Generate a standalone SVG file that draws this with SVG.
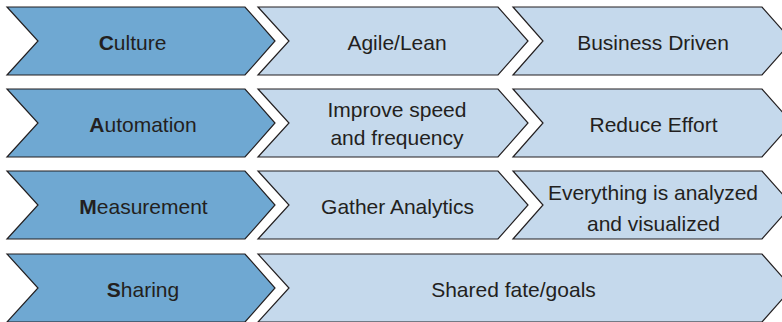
<svg xmlns="http://www.w3.org/2000/svg" width="782" height="322" viewBox="0 0 782 322">
<style>
.dark{fill:#6fa8d2;stroke:#231f20;stroke-width:1.2;stroke-linejoin:miter}
.light{fill:#c5d9ec;stroke:#231f20;stroke-width:1.2;stroke-linejoin:miter}
text{font-family:"Liberation Sans",Arial,sans-serif;font-size:21px;fill:#231f20;text-anchor:middle}
.b{font-weight:bold}
</style>
<rect width="782" height="322" fill="#ffffff"/>
<g id="culture">
<polygon class="dark" points="7,7 245,7 275,41 245,75 7,75 38,41"/>
<text x="132.5" y="50"><tspan class="b">C</tspan>ulture</text>
</g>
<g id="agile">
<polygon class="light" points="258,7 498,7 528,41 498,75 258,75 289,41"/>
<text x="397" y="50">Agile/Lean</text>
</g>
<g id="business">
<polygon class="light" points="513,7 762,7 792,41 762,75 513,75 543,41"/>
<text x="653" y="50">Business Driven</text>
</g>
<g id="automation">
<polygon class="dark" points="7,89 245,89 275,123 245,157 7,157 38,123"/>
<text x="143" y="132"><tspan class="b">A</tspan>utomation</text>
</g>
<g id="improve">
<polygon class="light" points="258,89 498,89 528,123 498,157 258,157 289,123"/>
<text x="397" y="117">Improve speed</text>
<text x="397" y="145">and frequency</text>
</g>
<g id="reduce">
<polygon class="light" points="513,89 762,89 792,123 762,157 513,157 543,123"/>
<text x="653.5" y="132">Reduce Effort</text>
</g>
<g id="measurement">
<polygon class="dark" points="7,171 245,171 275,205 245,239 7,239 38,205"/>
<text x="143.5" y="214"><tspan class="b">M</tspan>easurement</text>
</g>
<g id="gather">
<polygon class="light" points="258,171 498,171 528,205 498,239 258,239 289,205"/>
<text x="397.5" y="214">Gather Analytics</text>
</g>
<g id="everything">
<polygon class="light" points="513,171 762,171 792,205 762,239 513,239 543,205"/>
<text x="653" y="200">Everything is analyzed</text>
<text x="653.5" y="230.5">and visualized</text>
</g>
<g id="sharing">
<polygon class="dark" points="7,254 245,254 275,288 245,322 7,322 38,288"/>
<text x="143" y="297"><tspan class="b">S</tspan>haring</text>
</g>
<g id="shared">
<polygon class="light" points="258,254 762,254 792,288 762,322 258,322 289,288"/>
<text x="513.5" y="297">Shared fate/goals</text>
</g>
<g id="connectors"></g>
</svg>
